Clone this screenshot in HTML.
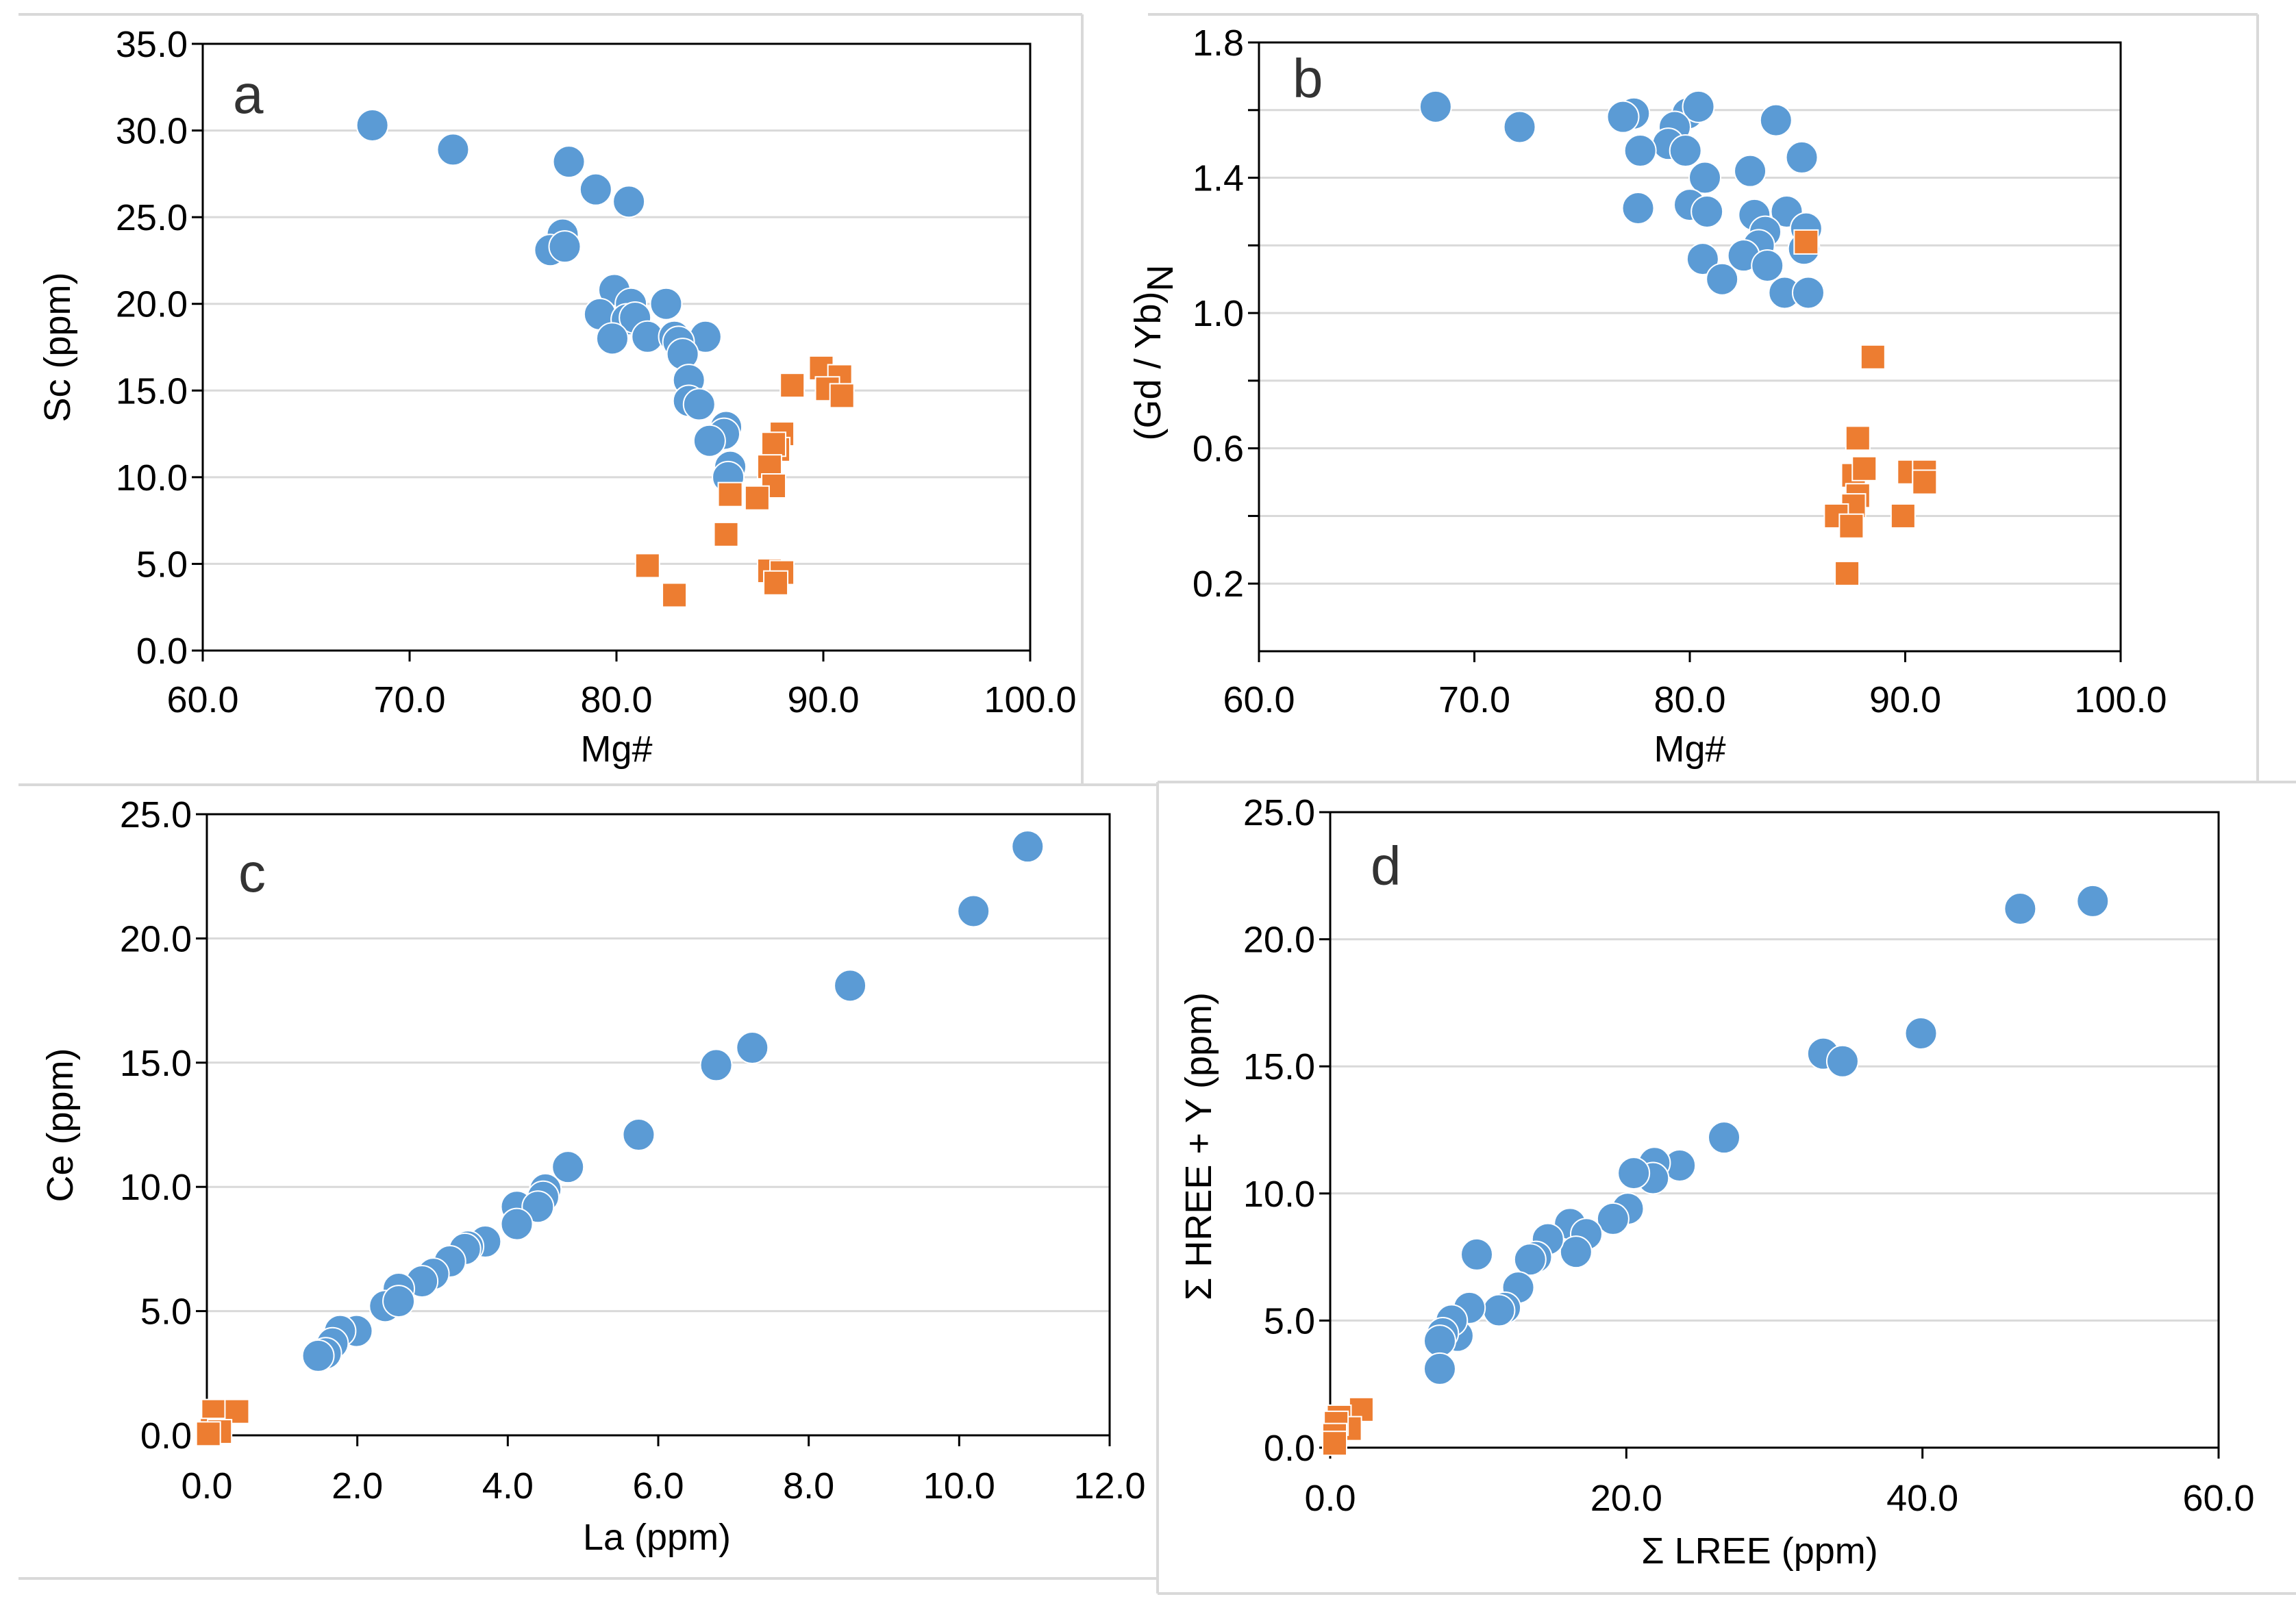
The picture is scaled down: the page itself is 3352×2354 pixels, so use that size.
<!DOCTYPE html>
<html><head><meta charset="utf-8"><style>
html,body{margin:0;padding:0;background:#fff;}
svg{display:block;font-family:"Liberation Sans",Arial,sans-serif;}
</style></head><body>
<svg id="fig" width="3352" height="2354" viewBox="0 0 3352 2354" xmlns="http://www.w3.org/2000/svg">
<g stroke="#d9d9d9" stroke-width="4" fill="none">
<line x1="27" y1="21" x2="1580" y2="21"/>
<line x1="1580" y1="21" x2="1580" y2="1146"/>
<line x1="27" y1="1146" x2="1690" y2="1146"/>
<line x1="1676" y1="21" x2="3296" y2="21"/>
<line x1="3296" y1="21" x2="3296" y2="1142"/>
<line x1="1690" y1="1142" x2="3352" y2="1142"/>
<line x1="1690" y1="1142" x2="1690" y2="2327"/>
<line x1="1690" y1="2327" x2="3352" y2="2327"/>
<line x1="27" y1="2305" x2="1690" y2="2305"/>
</g>
</svg>
<script>
// Panel a: Sc vs Mg#
const aBlueX=[68.2,72.1,77.7,79.0,80.6,77.4,76.8,77.5,79.9,80.7,82.4,79.2,80.5,80.9,79.8,81.5,82.8,84.3,83.0,83.2,83.5,83.5,84.0,85.3,85.2,84.5,85.5,85.4];
const aBlueY=[30.3,28.9,28.2,26.6,25.9,24.0,23.1,23.3,20.8,20.0,20.0,19.4,19.1,19.2,18.0,18.1,18.1,18.1,17.8,17.1,15.6,14.4,14.2,12.9,12.5,12.1,10.6,10.0];
const aOrX=[89.9,90.8,90.2,90.9,88.5,88.0,87.8,87.6,87.4,87.6,85.5,86.8,85.3,81.5,82.8,87.4,88.0,87.7];
const aOrY=[16.3,15.8,15.1,14.7,15.3,12.5,11.6,11.9,10.6,9.5,9.0,8.8,6.7,4.9,3.2,4.6,4.5,3.9];
const aXTicks=[60,70,80,90,100];
const aYTicks=[0,5,10,15,20,25,30,35];
// Panel b: (Gd/Yb)N vs Mg#
const bBlueX=[68.2,72.1,77.4,76.9,79.9,80.4,79.3,79.0,77.7,79.8,84.0,85.2,80.7,82.8,77.6,80.0,80.8,83.0,84.5,85.4,83.5,83.2,85.3,80.6,82.5,83.6,81.5,84.4,85.5];
const bBlueY=[1.61,1.55,1.59,1.58,1.59,1.61,1.55,1.50,1.48,1.48,1.57,1.46,1.40,1.42,1.31,1.32,1.30,1.29,1.30,1.25,1.24,1.20,1.19,1.16,1.17,1.14,1.10,1.06,1.06];
const bOrX=[85.4,88.5,87.8,87.6,88.1,90.2,90.9,90.9,87.8,87.6,86.8,89.9,87.5,87.3];
const bOrY=[1.21,0.87,0.63,0.52,0.54,0.53,0.53,0.50,0.46,0.43,0.40,0.40,0.37,0.23];
const bXTicks=[60,70,80,90,100];
const bYGrid=[0.2,0.4,0.6,0.8,1.0,1.2,1.4,1.6,1.8];
const bYLabels=[0.2,0.6,1.0,1.4,1.8];
// Panel c: Ce vs La
const cBlueX=[10.91,10.19,8.55,7.25,6.77,5.74,4.80,4.50,4.47,4.12,4.40,4.12,3.70,3.47,3.43,3.23,3.01,2.86,2.55,2.37,2.55,1.99,1.77,1.67,1.58,1.48];
const cBlueY=[23.7,21.1,18.1,15.6,14.9,12.1,10.8,9.9,9.6,9.2,9.2,8.5,7.8,7.6,7.5,7.0,6.5,6.2,5.9,5.2,5.4,4.2,4.2,3.7,3.3,3.2];
const cOrX=[0.09,0.40,0.07,0.17,0.02];
const cOrY=[0.96,0.96,0.2,0.15,0.06];
const cXTicks=[0,2,4,6,8,10,12];
const cYTicks=[0,5,10,15,20,25];
// Panel d: ΣHREE+Y vs ΣLREE
const dBlueX=[51.5,46.6,39.9,33.3,34.6,26.6,23.6,21.9,21.8,20.5,20.1,19.1,16.2,17.3,16.6,14.7,13.9,13.5,9.9,12.7,11.8,11.4,9.4,8.6,8.2,7.6,7.4,7.4];
const dBlueY=[21.5,21.2,16.3,15.5,15.2,12.2,11.1,11.2,10.6,10.8,9.4,9.0,8.8,8.4,7.7,8.2,7.5,7.4,7.6,6.3,5.5,5.4,5.5,4.4,5.0,4.5,4.2,3.1];
const dOrX=[2.1,0.6,1.3,0.4,0.3,0.3];
const dOrY=[1.5,1.2,0.75,0.96,0.48,0.17];
const dXTicks=[0,20,40,60];
const dYTicks=[0,5,10,15,20,25];

const NS='http://www.w3.org/2000/svg';
const svg=document.getElementById('fig');
function mk(tag,attrs,parent){const e=document.createElementNS(NS,tag);for(const k in attrs)e.setAttribute(k,attrs[k]);(parent||svg).appendChild(e);return e;}
function fmt(v,d){return v.toFixed(d);}

function panel(p){
  const g=mk('g',{});
  
  
  const sx=v=>p.L+(v-p.x0)/(p.x1-p.x0)*(p.R-p.L);
  const sy=v=>p.B-(v-p.y0)/(p.y1-p.y0)*(p.B-p.T);
  // gridlines
  p.yGrid.forEach(v=>{
    if(v===p.y0||v===p.y1)return;
    const l=mk('line',{x1:p.L,x2:p.R,y1:sy(v),y2:sy(v),stroke:'#d9d9d9','stroke-width':3},g);
    
    
  });
  // frame
  const fr=mk('rect',{x:p.L,y:p.T,width:p.R-p.L,height:p.B-p.T,fill:'none',stroke:'#000','stroke-width':3},g);
  
  
  // y ticks
  p.yGrid.forEach(v=>{mk('line',{x1:p.L-16,x2:p.L,y1:sy(v),y2:sy(v),stroke:'#000','stroke-width':3},g);});
  p.yLabels.forEach(v=>{
    const t=mk('text',{x:p.L-22,y:sy(v)+19,'text-anchor':'end','font-size':54,fill:'#000'},g);
    t.textContent=fmt(v,1);
    
    
  });
  // x ticks
  p.xTicks.forEach(v=>{
    mk('line',{x1:sx(v),x2:sx(v),y1:p.B,y2:p.B+16,stroke:'#000','stroke-width':3},g);
    const t=mk('text',{x:sx(v),y:p.xLabY,'text-anchor':'middle','font-size':54,fill:'#000'},g);
    t.textContent=fmt(v,1);
    
    
  });
  // points
  p.bx.forEach((v,i)=>{
    const c=mk('circle',{cx:sx(v),cy:sy(p.by[i]),r:23,fill:'#5b9bd5',stroke:'#fff','stroke-width':2},g);
    
    
  });
  p.ox.forEach((v,i)=>{
    const s=35;
    const r=mk('rect',{x:sx(v)-s/2,y:sy(p.oy[i])-s/2,width:s,height:s,fill:'#ed7d31',stroke:'#fff','stroke-width':2},g);
    
    
  });
  // panel letter
  const lt=mk('text',{x:p.letX,y:p.letY,'font-size':80,fill:'#333'},g);
  lt.textContent=p.id;
  
  
  // x title
  const xt=mk('text',{x:p.xtX,y:p.xtY,'text-anchor':'middle','font-size':54,fill:'#000'},g);
  xt.textContent=p.xTitle;
  
  
  // y title
  const yt=mk('text',{x:0,y:0,'text-anchor':'middle','font-size':54,fill:'#000',transform:'translate('+p.ytX+','+p.ytY+') rotate(-90)'},g);
  if(p.yTitleN){
    yt.textContent=p.yTitle;
    const ts=mk('tspan',{dy:18},yt);
    ts.textContent='N';
  } else yt.textContent=p.yTitle;
  
  
}

panel({id:'a',L:296,R:1504,T:64,B:950,x0:60,x1:100,y0:0,y1:35,
  yGrid:aYTicks,yLabels:aYTicks,xTicks:aXTicks,xLabY:1040,
  bx:aBlueX,by:aBlueY,ox:aOrX,oy:aOrY,letX:340,letY:165,
  xTitle:'Mg#',xtX:900,xtY:1112,yTitle:'Sc (ppm)',ytX:102,ytY:507});
panel({id:'b',L:1838,R:3096,T:62,B:951,x0:60,x1:100,y0:0,y1:1.8,
  yGrid:bYGrid,yLabels:bYLabels,xTicks:bXTicks,xLabY:1040,
  bx:bBlueX,by:bBlueY,ox:bOrX,oy:bOrY,letX:1887,letY:142,
  xTitle:'Mg#',xtX:2467,xtY:1112,yTitle:'(Gd / Yb)',yTitleN:true,ytX:1694,ytY:515});
panel({id:'c',L:302,R:1620,T:1189,B:2096,x0:0,x1:12,y0:0,y1:25,
  yGrid:cYTicks,yLabels:cYTicks,xTicks:cXTicks,xLabY:2188,
  bx:cBlueX,by:cBlueY,ox:cOrX,oy:cOrY,letX:348,letY:1302,
  xTitle:'La (ppm)',xtX:959,xtY:2263,yTitle:'Ce (ppm)',ytX:106,ytY:1643});
panel({id:'d',L:1942,R:3239,T:1186,B:2114,x0:0,x1:60,y0:0,y1:25,
  yGrid:dYTicks,yLabels:dYTicks,xTicks:dXTicks,xLabY:2206,
  bx:dBlueX,by:dBlueY,ox:dOrX,oy:dOrY,letX:2001,letY:1292,
  xTitle:'Σ LREE (ppm)',xtX:2569,xtY:2283,yTitle:'Σ HREE + Y (ppm)',ytX:1768,ytY:1674});
</script>
</body></html>
